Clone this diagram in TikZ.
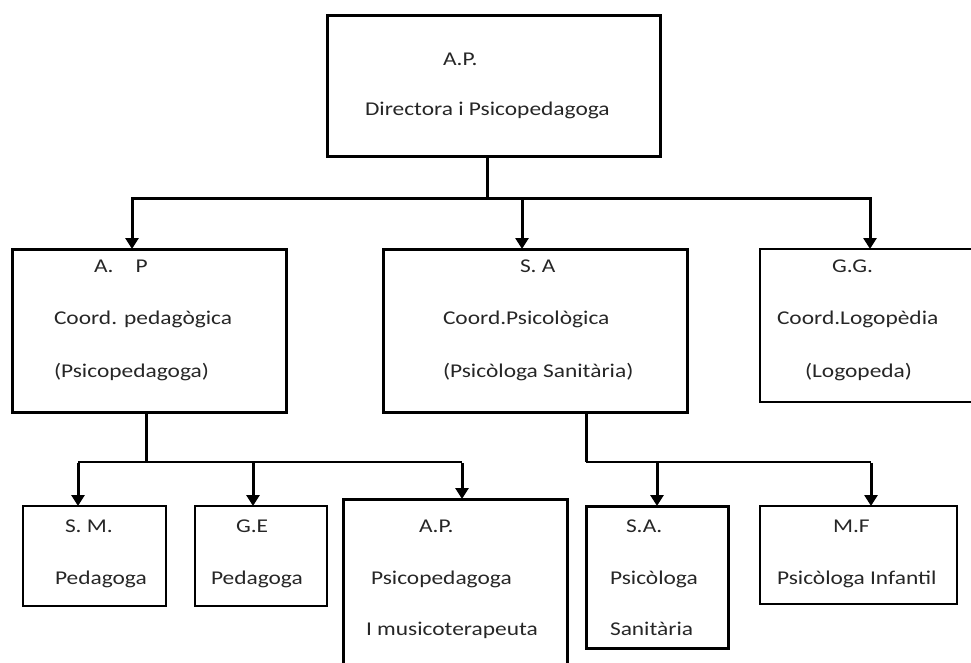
\documentclass[tikz,border=0pt]{standalone}
\usepackage{fontspec}
\setmainfont{Carlito}[FakeStretch=1.2]
\usetikzlibrary{arrows.meta}
\tikzset{
  box/.style={draw, line width=3pt, inner sep=0pt, outer sep=0pt, anchor=north west},
  thinbox/.style={box, line width=2pt},
  lbl/.style={anchor=base west, inner sep=0pt, outer sep=0pt, text=black!85, font=\fontsize{19.5}{22}\selectfont},
  conn/.style={line width=3pt},
  thinconn/.style={line width=2pt, line cap=square},
  arr/.style={line width=3pt, -{Triangle[width=13pt,length=11pt]}},
}
\begin{document}
\begin{tikzpicture}[x=1pt,y=-1pt]
\useasboundingbox (0,0) rectangle (971,662);
\clip (0,0) rectangle (971,662);

% boxes
\node[box, minimum width=333pt, minimum height=141pt] (top) at (327,15) {};
\node[box, minimum width=274pt, minimum height=163pt] (apc) at (12,249) {};
\node[box, minimum width=304pt, minimum height=163pt] (sac) at (383,249) {};
\node[thinbox, minimum width=230pt, minimum height=153pt] (ggc) at (760,249) {};
\node[box, line width=2.6pt, minimum width=143pt, minimum height=100pt] (sm) at (23,506) {};
\node[box, line width=2.6pt, minimum width=132pt, minimum height=100pt] (ge) at (195,506) {};
\node[box, minimum width=224pt, minimum height=200pt] (ap) at (343,499) {};
\node[box, minimum width=142pt, minimum height=142pt] (sa) at (586,506) {};
\node[box, line width=2.6pt, minimum width=197pt, minimum height=98pt] (mf) at (760,506) {};

% texts
\node[lbl] (t1a) at (443,65) {A.P.};
\node[lbl] (t1b) at (365,115) {Directora i Psicopedagoga};

\node[lbl] (t2a) at (94,272) {A.\hspace{22pt}P};
\node[lbl] (t2b) at (54,324) {Coord. pedagògica};
\node[lbl] (t2c) at (54,377) {(Psicopedagoga)};

\node[lbl] (t3a) at (520,272) {S. A};
\node[lbl] (t3b) at (443,324) {Coord.Psicològica};
\node[lbl] (t3c) at (443,377) {(Psicòloga Sanitària)};

\node[lbl] (t4a) at (832,272) {G.G.};
\node[lbl] (t4b) at (777,324) {Coord.Logopèdia};
\node[lbl] (t4c) at (805,377) {(Logopeda)};

\node[lbl] (t5a) at (65,532) {S. M.};
\node[lbl] (t5b) at (55,584) {Pedagoga};

\node[lbl] (t6a) at (236,532) {G.E};
\node[lbl] (t6b) at (211,584) {Pedagoga};

\node[lbl] (t7a) at (419,532) {A.P.};
\node[lbl] (t7b) at (371,584) {Psicopedagoga};
\node[lbl] (t7c) at (366,635) {I musicoterapeuta};

\node[lbl] (t8a) at (626,532) {S.A.};
\node[lbl] (t8b) at (610,584) {Psicòloga};
\node[lbl] (t8c) at (610,635) {Sanitària};

\node[lbl] (t9a) at (833,532) {M.F};
\node[lbl] (t9b) at (777,584) {Psicòloga Infantil};

% level 1 connectors
\coordinate (b1) at (487,198);
\coordinate (b1l) at (132,198);
\coordinate (b1m) at (522,198);
\coordinate (b1r) at (870,198);
\draw[conn] (b1 |- top.south) -- (b1);
\draw[arr] (b1) -| (b1l |- apc.north);
\draw[arr] (b1) -| (b1r |- ggc.north);
\draw[arr] (b1m) -- (b1m |- sac.north);

% level 2 left
\coordinate (b2) at (146,462);
\coordinate (b2l) at (78,462);
\coordinate (b2m) at (253,462);
\coordinate (b2r) at (462,462);
\draw[conn] (b2 |- apc.south) -- (b2);
\draw[thinconn] (b2l) -- (b2r);
\draw[arr] ([yshift=-1pt]b2l) -- (b2l |- sm.north);
\draw[arr] ([yshift=-1pt]b2m) -- (b2m |- ge.north);
\draw[arr] ([yshift=-1pt]b2r) -- (b2r |- ap.north);

% level 2 right
\coordinate (b3) at (586,462);
\coordinate (b3m) at (657,462);
\coordinate (b3r) at (871,462);
\draw[conn] (b3 |- sac.south) -- (b3);
\draw[thinconn] (b3) -- (b3r);
\draw[arr] ([yshift=-1pt]b3m) -- (b3m |- sa.north);
\draw[arr] ([yshift=-1pt]b3r) -- (b3r |- mf.north);
\end{tikzpicture}
\end{document}
